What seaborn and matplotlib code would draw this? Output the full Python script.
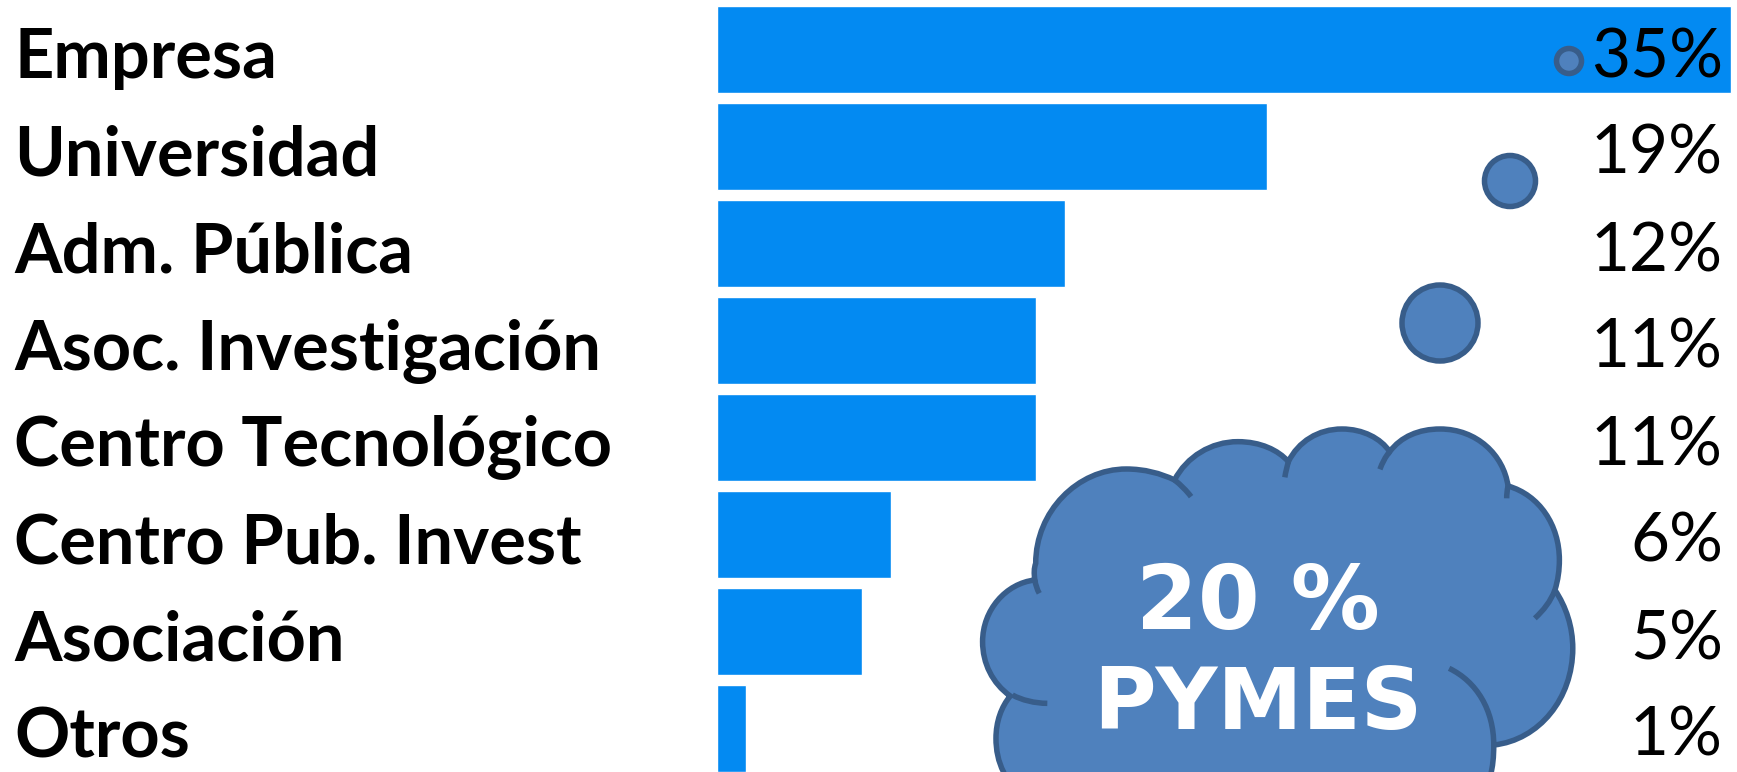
import matplotlib
matplotlib.use("Agg")
import matplotlib.pyplot as plt
import pandas as pd
import seaborn as sns
from matplotlib.patches import Circle, PathPatch
from matplotlib.path import Path
from matplotlib.transforms import ScaledTranslation

categories = [
    "Empresa",
    "Universidad",
    "Adm. Pública",
    "Asoc. Investigación",
    "Centro Tecnológico",
    "Centro Pub. Invest",
    "Asociación",
    "Otros",
]
shares = [35, 19, 12, 11, 11, 6, 5, 1]

BAR_COLOR = "#038AF2"
CLOUD_FILL = "#4F81BD"
CLOUD_EDGE = "#385D8A"
DPI = 100


def px(n):
    return n * 72 / DPI


# cloud outline, clockwise from the lower left, bottom lobe runs off the canvas
cloud_start = (135, 888)
cloud_curves = [
    ((95, 850), (73, 790), (73, 725)),
    ((73, 630), (125, 550), (190, 540)),
    ((188, 520), (188, 505), (192, 490)),
    ((192, 335), (285, 207), (395, 207)),
    ((435, 207), (472, 220), (503, 240)),
    ((530, 170), (585, 125), (645, 125)),
    ((695, 125), (735, 150), (758, 185)),
    ((780, 125), (825, 87), (878, 87)),
    ((925, 87), (965, 115), (985, 155)),
    ((1010, 110), (1050, 87), (1098, 87)),
    ((1180, 87), (1240, 165), (1250, 258)),
    ((1320, 285), (1365, 375), (1365, 480)),
    ((1365, 510), (1362, 540), (1355, 570)),
    ((1380, 620), (1395, 680), (1395, 745)),
    ((1395, 895), (1320, 1020), (1218, 1035)),
    ((1218, 1070), (1216, 1100), (1210, 1130)),
    ((1200, 1160), (1195, 1180), (1190, 1200)),
    ((800, 1200), (400, 1200), (130, 1200)),
    ((125, 1170), (122, 1140), (120, 1116)),
    ((108, 1085), (103, 1050), (103, 1015)),
    ((103, 965), (115, 920), (135, 888)),
]
# the short arcs that continue the lobes inside the cloud
cloud_arcs = [
    ((190, 540), (192, 555), (195, 568), (200, 580)),
    ((503, 240), (517, 255), (530, 272), (540, 290)),
    ((758, 185), (755, 200), (752, 215), (750, 232)),
    ((985, 155), (975, 170), (968, 190), (963, 208)),
    ((1250, 258), (1248, 270), (1247, 283), (1247, 295)),
    ((1355, 570), (1345, 605), (1330, 630), (1310, 655)),
    ((1118, 805), (1180, 845), (1218, 930), (1218, 1035)),
    ((140, 885), (160, 900), (190, 910), (218, 910)),
]


def to_px(p):
    # outline above was traced on a crop starting at (950, 400), x at 2.24x and y at 3x
    return (950 + p[0] / 2.24, 400 + p[1] / 3)


def cloud_path():
    verts = [to_px(cloud_start)]
    codes = [Path.MOVETO]
    for c in cloud_curves:
        verts += [to_px(q) for q in c]
        codes += [Path.CURVE4] * 3
    verts.append(verts[0])
    codes.append(Path.CLOSEPOLY)
    return Path(verts, codes)


sns.set_theme(style="white")
plt.rcParams["font.family"] = ["Lato", "DejaVu Sans"]

df = pd.DataFrame({"category": categories, "share": shares})

fig = plt.figure(figsize=(17.37, 7.72), dpi=DPI, facecolor="white")
ax = fig.add_axes([717 / 1737, 0, 1020 / 1737, 1])

sns.barplot(
    df,
    x="share",
    y="category",
    color=BAR_COLOR,
    saturation=1,
    width=87 / 97,
    ax=ax,
)

ax.set_xlim(0, 1020 / 28.97)
ax.set_ylim(723 / 97, -49 / 97)
ax.set(xlabel="", ylabel="", xticks=[])
sns.despine(ax=ax, left=True, bottom=True)

ax.tick_params(axis="y", length=0, pad=px(703), labelsize=49.3)
nudge = ScaledTranslation(0, -4 / DPI, fig.dpi_scale_trans)
for lbl in ax.get_yticklabels():
    lbl.set_ha("left")
    lbl.set_fontweight("bold")
    lbl.set_color("black")
    lbl.set_transform(lbl.get_transform() + nudge)

# drawing layer in canvas pixels, y going down
top = fig.add_axes([0, 0, 1, 1], facecolor="none")
top.set_xlim(0, 1737)
top.set_ylim(772, 0)
top.axis("off")

for (cx, cy), r in [((1569, 61), 12.5), ((1510, 181), 25.5), ((1440, 323), 38)]:
    top.add_patch(Circle((cx, cy), r, fc=CLOUD_FILL, ec=CLOUD_EDGE, lw=px(5.5)))

top.add_patch(PathPatch(cloud_path(), fc=CLOUD_FILL, ec=CLOUD_EDGE, lw=px(5.5)))
for arc in cloud_arcs:
    verts = [to_px(q) for q in arc]
    codes = [Path.MOVETO, Path.CURVE4, Path.CURVE4, Path.CURVE4]
    top.add_patch(PathPatch(Path(verts, codes), fc="none", ec=CLOUD_EDGE, lw=px(5.5), capstyle="butt"))

for text, y, size in [("20 %", 604, 64), ("PYMES", 705, 61.5)]:
    top.text(
        1258, y, text, color="white", fontsize=size, fontweight="bold",
        family="DejaVu Sans", ha="center", va="center",
    )

for i, val in enumerate(shares):
    top.text(1723, 58 + i * 97, f"{val}%", color="black", fontsize=48.5, ha="right", va="center")

fig.savefig("out.png", dpi=DPI)
plt.close(fig)
